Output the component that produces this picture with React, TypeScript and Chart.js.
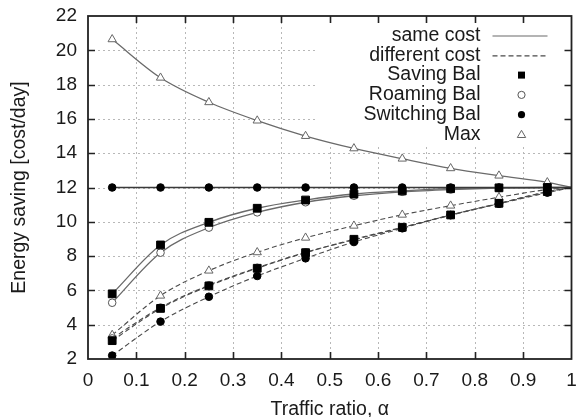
import React, { useEffect, useRef } from "react";
import { Chart, registerables } from "chart.js";

Chart.register(...registerables);

// ---- data ----
const alphaPoints = [0.05, 0.15, 0.25, 0.35, 0.45, 0.55, 0.65, 0.75, 0.85, 0.95, 1.0];

const sameSaving = [5.8, 8.65, 9.97, 10.79, 11.27, 11.62, 11.8, 11.93, 11.98, 12.0, 12];
const sameRoaming = [5.28, 8.2, 9.66, 10.55, 11.14, 11.52, 11.75, 11.88, 11.96, 11.99, 12];
const sameSwitching = [12, 12, 12, 12, 12, 12, 12, 12, 12, 12, 12];
const sameMax = [20.64, 18.4, 16.97, 15.9, 15.0, 14.28, 13.68, 13.12, 12.69, 12.3, 12];

const diffSaving = [3.07, 4.95, 6.26, 7.29, 8.2, 8.98, 9.68, 10.4, 11.08, 11.76, 12];
const diffRoaming = [3.2, 5.0, 6.3, 7.32, 8.22, 8.95, 9.66, 10.38, 11.06, 11.74, 12];
const diffSwitching = [2.2, 4.18, 5.63, 6.84, 7.87, 8.82, 9.62, 10.4, 11.05, 11.7, 12];
const diffMax = [3.4, 5.69, 7.15, 8.22, 9.07, 9.77, 10.41, 10.94, 11.43, 11.88, 12];

const xTicks = [0, 0.1, 0.2, 0.3, 0.4, 0.5, 0.6, 0.7, 0.8, 0.9, 1];
const xTickLabels = ["0", "0.1", "0.2", "0.3", "0.4", "0.5", "0.6", "0.7", "0.8", "0.9", "1"];
const yTicks = [2, 4, 6, 8, 10, 12, 14, 16, 18, 20, 22];
const yTickLabels = ["2", "4", "6", "8", "10", "12", "14", "16", "18", "20", "22"];

const legendLabels = ["same cost", "different cost", "Saving Bal", "Roaming Bal", "Switching Bal", "Max"];

const xTitle = "Traffic ratio, \u03b1";
const yTitle = "Energy saving [cost/day]";

const FONT = '"Liberation Sans", Arial, Helvetica, sans-serif';
const SOLID = "#6a6a6a";
const DASHED = "#4a4a4a";

type Kind = "square" | "open" | "dot" | "tri";

function markerStyle(kind: Kind) {
  switch (kind) {
    case "square":
      return { pointStyle: "rect", r: 5.5, bg: "#000", bc: "#000", bw: 1 };
    case "open":
      return { pointStyle: "circle", r: 3.8, bg: "#fff", bc: "#555", bw: 1 };
    case "dot":
      return { pointStyle: "circle", r: 3.8, bg: "#000", bc: "#000", bw: 1 };
    default:
      return { pointStyle: "triangle", r: 4.8, bg: "#fff", bc: "#666", bw: 1 };
  }
}

function makeSet(label: string, values: number[], kind: Kind, dashed: boolean, color: string, width: number) {
  const m = markerStyle(kind);
  const last = values.length - 1;
  return {
    type: "line" as const,
    label,
    data: alphaPoints.map((x, i) => ({ x, y: values[i] })),
    borderColor: color,
    borderWidth: width,
    borderDash: dashed ? [5, 3] : [],
    cubicInterpolationMode: "monotone" as const,
    fill: false,
    pointStyle: m.pointStyle,
    pointRadius: (ctx: any) => (ctx.dataIndex === last ? 0 : m.r),
    pointBackgroundColor: m.bg,
    pointBorderColor: m.bc,
    pointBorderWidth: m.bw,
  };
}

function drawMarker(ctx: CanvasRenderingContext2D, kind: Kind, x: number, y: number) {
  ctx.save();
  ctx.setLineDash([]);
  ctx.lineWidth = 1;
  if (kind === "square") {
    ctx.fillStyle = "#000";
    ctx.fillRect(x - 3.5, y - 3.5, 7, 7);
  } else if (kind === "open") {
    ctx.beginPath();
    ctx.arc(x, y, 3.6, 0, Math.PI * 2);
    ctx.fillStyle = "#fff";
    ctx.fill();
    ctx.strokeStyle = "#555";
    ctx.stroke();
  } else if (kind === "dot") {
    ctx.beginPath();
    ctx.arc(x, y, 3.6, 0, Math.PI * 2);
    ctx.fillStyle = "#000";
    ctx.fill();
  } else {
    ctx.beginPath();
    ctx.moveTo(x, y - 4.2);
    ctx.lineTo(x + 4.2, y + 3);
    ctx.lineTo(x - 4.2, y + 3);
    ctx.closePath();
    ctx.fillStyle = "#fff";
    ctx.fill();
    ctx.strokeStyle = "#666";
    ctx.stroke();
  }
  ctx.restore();
}

const framePlugin = {
  id: "gnuplotFrame",
  beforeDatasetsDraw(chart: any) {
    const { ctx, chartArea: a, scales } = chart;
    ctx.save();
    ctx.strokeStyle = "#b8b8b8";
    ctx.lineWidth = 1;
    ctx.setLineDash([2, 3]);
    for (const v of xTicks) {
      if (v <= 0 || v >= 1) continue;
      const px = Math.round(scales.x.getPixelForValue(v)) + 0.5;
      ctx.beginPath();
      ctx.moveTo(px, a.bottom);
      ctx.lineTo(px, a.top);
      ctx.stroke();
    }
    for (const v of yTicks) {
      if (v <= 2 || v >= 22) continue;
      const py = Math.round(scales.y.getPixelForValue(v)) + 0.5;
      ctx.beginPath();
      ctx.moveTo(a.left, py);
      ctx.lineTo(a.right, py);
      ctx.stroke();
    }
    ctx.setLineDash([]);
    // opaque key box
    ctx.fillStyle = "#fff";
    ctx.fillRect(a.right - 256, a.top + 1, 255, 128);
    ctx.restore();
  },
  afterDatasetsDraw(chart: any) {
    const { ctx, chartArea: a, scales } = chart;
    ctx.save();
    ctx.strokeStyle = "#222";
    ctx.lineWidth = 1.6;
    ctx.setLineDash([]);
    const tl = 7;
    for (const v of xTicks) {
      if (v <= 0 || v >= 1) continue;
      const px = Math.round(scales.x.getPixelForValue(v)) + 0.5;
      ctx.beginPath();
      ctx.moveTo(px, a.bottom);
      ctx.lineTo(px, a.bottom - tl);
      ctx.moveTo(px, a.top);
      ctx.lineTo(px, a.top + tl);
      ctx.stroke();
    }
    for (const v of yTicks) {
      if (v <= 2 || v >= 22) continue;
      const py = Math.round(scales.y.getPixelForValue(v)) + 0.5;
      ctx.beginPath();
      ctx.moveTo(a.left, py);
      ctx.lineTo(a.left + tl, py);
      ctx.moveTo(a.right, py);
      ctx.lineTo(a.right - tl, py);
      ctx.stroke();
    }
    ctx.lineWidth = 1.8;
    ctx.strokeRect(a.left, a.top, a.right - a.left, a.bottom - a.top);

    // key
    const kinds: (Kind | "solid" | "dashed")[] = ["solid", "dashed", "square", "open", "dot", "tri"];
    ctx.font = "19.5px " + FONT;
    ctx.textAlign = "right";
    ctx.textBaseline = "middle";
    ctx.fillStyle = "#1a1a1a";
    const textX = a.right - 91;
    const markX = a.right - 50;
    legendLabels.forEach((label, i) => {
      const y = a.top + 19.5 + i * 19.8;
      ctx.fillText(label, textX, y);
      const k = kinds[i];
      if (k === "solid" || k === "dashed") {
        ctx.save();
        ctx.lineWidth = 1.2;
        ctx.strokeStyle = k === "solid" ? SOLID : DASHED;
        ctx.setLineDash(k === "solid" ? [] : [5, 3]);
        ctx.beginPath();
        ctx.moveTo(a.right - 79, y + 0.5);
        ctx.lineTo(a.right - 24, y + 0.5);
        ctx.stroke();
        ctx.restore();
      } else {
        drawMarker(ctx, k, markX, y);
      }
    });
    ctx.restore();
  },
};

export default function App() {
  const ref = useRef<HTMLCanvasElement | null>(null);

  useEffect(() => {
    if (!ref.current) return;
    const datasets = [
      makeSet("Switching Bal (same)", sameSwitching, "dot", false, "#3a3a3a", 1.6),
      makeSet("Saving Bal (same)", sameSaving, "square", false, SOLID, 1.3),
      makeSet("Roaming Bal (same)", sameRoaming, "open", false, SOLID, 1.3),
      makeSet("Max (same)", sameMax, "tri", false, SOLID, 1.3),
      makeSet("Switching Bal (diff)", diffSwitching, "dot", true, DASHED, 1.1),
      makeSet("Saving Bal (diff)", diffSaving, "square", true, DASHED, 1.1),
      makeSet("Roaming Bal (diff)", diffRoaming, "open", true, DASHED, 1.1),
      makeSet("Max (diff)", diffMax, "tri", true, DASHED, 1.1),
    ];
    const chart = new Chart(ref.current, {
      type: "line",
      data: { datasets: datasets as any },
      plugins: [framePlugin],
      options: {
        animation: false,
        responsive: false,
        maintainAspectRatio: false,
        layout: { padding: { top: 16, right: 4, left: 0, bottom: 0 } },
        plugins: {
          legend: { display: false },
          tooltip: { enabled: false },
        },
        scales: {
          x: {
            type: "linear",
            min: 0,
            max: 1,
            afterBuildTicks: (scale: any) => {
              scale.ticks = xTicks.map((v) => ({ value: v }));
            },
            afterFit: (scale: any) => {
              scale.height = 58;
              scale.paddingLeft = 0;
              scale.paddingRight = 0;
              scale.paddingTop = 0;
              scale.paddingBottom = 0;
            },
            grid: { display: false, drawTicks: false },
            border: { display: false },
            ticks: {
              padding: 10,
              maxRotation: 0,
              autoSkip: false,
              color: "#1a1a1a",
              font: { family: FONT, size: 19 },
              callback: (_v: any, i: number) => xTickLabels[i],
            },
            title: {
              display: true,
              text: xTitle,
              color: "#1a1a1a",
              font: { family: FONT, size: 19.5, lineHeight: 1 },
              padding: { top: 0, bottom: -2 },
            },
          },
          y: {
            type: "linear",
            min: 2,
            max: 22,
            afterBuildTicks: (scale: any) => {
              scale.ticks = yTicks.map((v) => ({ value: v }));
            },
            afterFit: (scale: any) => {
              scale.width = 88;
              scale.paddingLeft = 0;
              scale.paddingRight = 0;
              scale.paddingTop = 0;
              scale.paddingBottom = 0;
            },
            grid: { display: false, drawTicks: false },
            border: { display: false },
            ticks: {
              padding: 11,
              autoSkip: false,
              color: "#1a1a1a",
              font: { family: FONT, size: 19 },
              callback: (_v: any, i: number) => yTickLabels[i],
            },
            title: {
              display: true,
              text: yTitle,
              color: "#1a1a1a",
              font: { family: FONT, size: 19.5, lineHeight: 1 },
              padding: { top: 10, bottom: 0 },
            },
          },
        },
      },
    });
    return () => chart.destroy();
  }, []);

  return (
    <div style={{ position: "fixed", left: 0, top: 0, width: 578, height: 417, background: "#fff" }}>
      <canvas ref={ref} width={578} height={417} style={{ width: 578, height: 417, display: "block" }} />
    </div>
  );
}
